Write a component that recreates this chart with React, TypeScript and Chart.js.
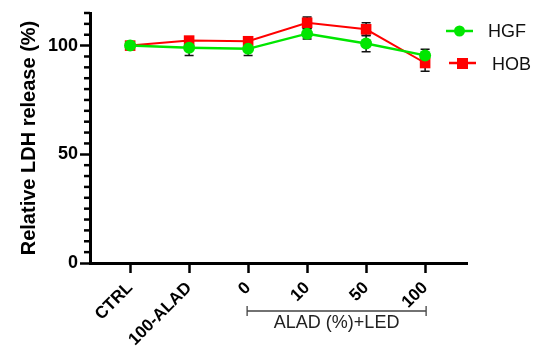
import React, { useEffect, useRef } from "react";
import { Chart, registerables } from "chart.js";

Chart.register(...registerables);

const categories = ["CTRL", "100-ALAD", "0", "10", "50", "100"];
const hgfValues = [100, 99, 98.5, 105.5, 101, 95.5];
const hgfErrors = [0.8, 3.5, 3, 2.5, 3.8, 2.8];
const hobValues = [100, 102.3, 102, 110.5, 107.5, 92];
const hobErrors = [0.8, 1.5, 1.5, 2.7, 3, 3.8];
const yMajorTicks = [0, 50, 100];
const yMinorTicks = [5, 10, 15, 20, 25, 30, 35, 40, 45, 55, 60, 65, 70, 75, 80, 85, 90, 95, 105, 110, 115];
const bracketLabel = "ALAD (%)+LED";
const bracketFrom = 2;
const bracketTo = 5;

const GREEN = "#00e600";
const RED = "#ff0000";
const FONT = "Arial, 'Liberation Sans', sans-serif";

export default function App() {
  const ref = useRef<HTMLCanvasElement | null>(null);
  useEffect(() => {
    if (!ref.current) return;
    const errorBars = {
      id: "errorBars",
      beforeDatasetsDraw(chart: any) {
        const { ctx } = chart;
        const xs = chart.scales.x;
        const ys = chart.scales.y;
        const sets = [
          { v: hgfValues, e: hgfErrors },
          { v: hobValues, e: hobErrors },
        ];
        ctx.save();
        ctx.strokeStyle = "#111";
        ctx.lineWidth = 1.5;
        sets.forEach((s) => {
          s.v.forEach((val, i) => {
            const x = xs.getPixelForValue(i);
            const yT = ys.getPixelForValue(val + s.e[i]);
            const yB = ys.getPixelForValue(val - s.e[i]);
            ctx.beginPath();
            ctx.moveTo(x, yT);
            ctx.lineTo(x, yB);
            ctx.moveTo(x - 4.5, yT);
            ctx.lineTo(x + 4.5, yT);
            ctx.moveTo(x - 4.5, yB);
            ctx.lineTo(x + 4.5, yB);
            ctx.stroke();
          });
        });
        ctx.restore();
      },
      afterDraw(chart: any) {
        const { ctx } = chart;
        const xs = chart.scales.x;
        const ys = chart.scales.y;
        ctx.save();
        ctx.strokeStyle = "#000";
        ctx.lineWidth = 2.5;
        const axX = chart.chartArea.left;
        yMinorTicks.forEach((t) => {
          const y = ys.getPixelForValue(t);
          ctx.beginPath();
          ctx.moveTo(axX - 6, y);
          ctx.lineTo(axX, y);
          ctx.stroke();
        });
        const x1 = xs.getPixelForValue(bracketFrom) - 1;
        const x2 = xs.getPixelForValue(bracketTo) + 1;
        const by = 311;
        ctx.strokeStyle = "#444";
        ctx.lineWidth = 1.3;
        ctx.beginPath();
        ctx.moveTo(x1, by);
        ctx.lineTo(x2, by);
        ctx.moveTo(x1, by - 5);
        ctx.lineTo(x1, by + 5);
        ctx.moveTo(x2, by - 5);
        ctx.lineTo(x2, by + 5);
        ctx.stroke();
        ctx.fillStyle = "#222";
        ctx.font = `18px ${FONT}`;
        ctx.textAlign = "center";
        ctx.textBaseline = "middle";
        ctx.fillText(bracketLabel, (x1 + x2) / 2, 323);
        ctx.lineWidth = 2.5;
        ctx.strokeStyle = GREEN;
        ctx.beginPath();
        ctx.moveTo(446, 31);
        ctx.lineTo(473, 31);
        ctx.stroke();
        ctx.fillStyle = GREEN;
        ctx.beginPath();
        ctx.arc(459.5, 31, 5.5, 0, Math.PI * 2);
        ctx.fill();
        ctx.strokeStyle = RED;
        ctx.beginPath();
        ctx.moveTo(449, 63);
        ctx.lineTo(476, 63);
        ctx.stroke();
        ctx.fillStyle = RED;
        ctx.fillRect(457, 58, 11, 11);
        ctx.fillStyle = "#111";
        ctx.font = `18px ${FONT}`;
        ctx.textAlign = "left";
        ctx.fillText(chart.data.datasets[0].label, 488, 32);
        ctx.fillText(chart.data.datasets[1].label, 492, 65);
        ctx.restore();
      },
    };

    const chart = new Chart(ref.current, {
      type: "line",
      data: {
        datasets: [
          {
            label: "HGF",
            data: hgfValues.map((v, i) => ({ x: i, y: v })),
            borderColor: GREEN,
            backgroundColor: GREEN,
            borderWidth: 2.5,
            pointStyle: "circle",
            pointRadius: 6,
            pointBorderWidth: 0,
            order: 1,
          },
          {
            label: "HOB",
            data: hobValues.map((v, i) => ({ x: i, y: v })),
            borderColor: RED,
            backgroundColor: RED,
            borderWidth: 2,
            pointStyle: "rect",
            pointRadius: 7.5,
            pointBorderWidth: 0,
            order: 2,
          },
        ],
      },
      options: {
        animation: false,
        responsive: false,
        layout: { padding: { top: 13, right: 68, left: 0, bottom: 0 } },
        plugins: { legend: { display: false }, tooltip: { enabled: false } },
        scales: {
          x: {
            type: "linear",
            min: -0.68,
            max: 5.71,
            afterBuildTicks(scale: any) {
              scale.ticks = categories.map((_, i) => ({ value: i }));
            },
            afterFit(scale: any) {
              scale.height = 88;
            },
            border: { display: true, color: "#000", width: 3 },
            grid: {
              display: true,
              drawOnChartArea: false,
              drawTicks: true,
              tickLength: 10,
              tickWidth: 2.5,
              tickColor: "#000",
            },
            ticks: {
              autoSkip: false,
              maxRotation: 45,
              minRotation: 45,
              padding: 5,
              color: "#000",
              font: { family: FONT, size: 17, weight: "bold" },
              callback: (v: any) => categories[v] ?? "",
            },
          },
          y: {
            type: "linear",
            min: 0,
            max: 115,
            afterBuildTicks(scale: any) {
              scale.ticks = yMajorTicks.map((v) => ({ value: v }));
            },
            afterFit(scale: any) {
              scale.width = 90;
            },
            border: { display: true, color: "#000", width: 3 },
            grid: {
              display: true,
              drawOnChartArea: false,
              drawTicks: true,
              tickLength: 10,
              tickWidth: 2.5,
              tickColor: "#000",
            },
            ticks: {
              padding: 2,
              color: "#000",
              font: { family: FONT, size: 18, weight: "bold" },
            },
            title: {
              display: true,
              text: "Relative LDH release (%)",
              color: "#000",
              padding: { top: 17, bottom: 0 },
              font: { family: FONT, size: 20, weight: "bold" },
            },
          },
        },
      },
      plugins: [errorBars],
    } as any);
    return () => chart.destroy();
  }, []);
  return (
    <div style={{ position: "fixed", left: 0, top: 0, width: 535, height: 351, background: "#fff" }}>
      <canvas ref={ref} width={535} height={351} style={{ width: 535, height: 351 }} />
    </div>
  );
}
